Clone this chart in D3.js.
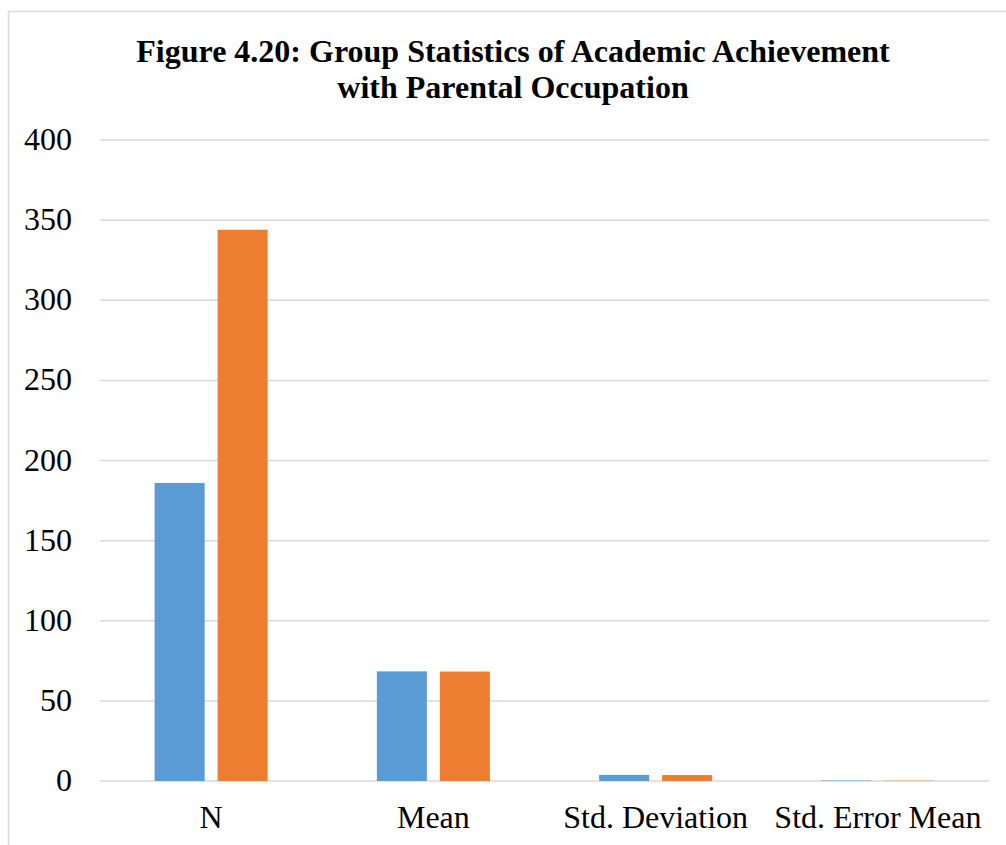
<!DOCTYPE html>
<html lang="en">
<head>
    <meta charset="UTF-8">
    <title>Group Statistics of Academic Achievement</title>
    <script src="https://d3js.org/d3.v7.min.js" charset="utf-8"></script>
    <style>
        body {
            margin: 0;
            background: white;
        }
        svg text {
            font-family: 'Liberation Serif', 'Times New Roman', serif;
            fill: black;
        }
    </style>
</head>
<body>
    <div id="chart"></div>
    <script>
        // data
        var categories = ['N', 'Mean', 'Std. Deviation', 'Std. Error Mean'];
        var seriesNames = ['Group 1', 'Group 2'];
        var group1 = [186, 68.4, 3.8, 0.28];
        var group2 = [344, 68.3, 3.7, 0.2];
        var yTicks = [0, 50, 100, 150, 200, 250, 300, 350, 400];
        var colors = ['#5B9BD5', '#ED7D31'];

        var svgwidth = 1006;
        var svgheight = 845;
        var plotLeft = 100, plotRight = 989, plotTop = 140, plotBottom = 781;

        var svg = d3.select('#chart').append('svg')
            .attr('width', svgwidth)
            .attr('height', svgheight);

        // chart border (top and left visible, rest cropped)
        svg.append('rect')
            .attr('x', 8.5)
            .attr('y', 11.5)
            .attr('width', 1100)
            .attr('height', 1000)
            .attr('fill', 'none')
            .attr('stroke', '#d9d9d9')
            .attr('stroke-width', 1.5);

        // title
        var title = svg.append('text')
            .attr('text-anchor', 'middle')
            .style('font-size', '32px')
            .style('font-weight', 'bold');
        title.append('tspan').attr('x', 513).attr('y', 62)
            .text('Figure 4.20: Group Statistics of Academic Achievement');
        title.append('tspan').attr('x', 513).attr('y', 98)
            .text('with Parental Occupation');

        var y = d3.scaleLinear().domain([0, 400]).range([plotBottom, plotTop]);

        var x0 = d3.scaleBand().domain(categories).range([plotLeft, plotRight]).padding(0);
        var groupW = 113;
        var x1 = d3.scaleBand().domain(seriesNames).range([0, groupW]).paddingInner(0.206);

        // gridlines
        svg.append('g').selectAll('line')
            .data(yTicks)
            .enter().append('line')
            .attr('x1', plotLeft)
            .attr('x2', plotRight)
            .attr('y1', d => y(d))
            .attr('y2', d => y(d))
            .attr('stroke', '#d9d9d9')
            .attr('stroke-width', 1.5);

        // y labels
        svg.append('g').selectAll('text')
            .data(yTicks)
            .enter().append('text')
            .attr('x', 72)
            .attr('y', d => y(d) + 10)
            .attr('text-anchor', 'end')
            .style('font-size', '32px')
            .text(d => d);

        var rows = categories.map(function(c, i) {
            return { category: c, values: [group1[i], group2[i]] };
        });

        var groups = svg.append('g').selectAll('g')
            .data(rows)
            .enter().append('g')
            .attr('transform', d => 'translate(' + (x0(d.category) + (x0.bandwidth() - groupW) / 2) + ',0)');

        groups.selectAll('rect')
            .data(d => d.values.map((v, i) => ({ name: seriesNames[i], value: v, i: i })))
            .enter().append('rect')
            .attr('x', d => x1(d.name))
            .attr('width', x1.bandwidth())
            .attr('y', d => y(d.value))
            .attr('height', d => y(0) - y(d.value))
            .attr('fill', d => colors[d.i]);

        // category labels
        svg.append('g').selectAll('text')
            .data(categories)
            .enter().append('text')
            .attr('x', d => x0(d) + x0.bandwidth() / 2)
            .attr('y', 828)
            .attr('text-anchor', 'middle')
            .style('font-size', '32px')
            .text(d => d);
    </script>
</body>
</html>
